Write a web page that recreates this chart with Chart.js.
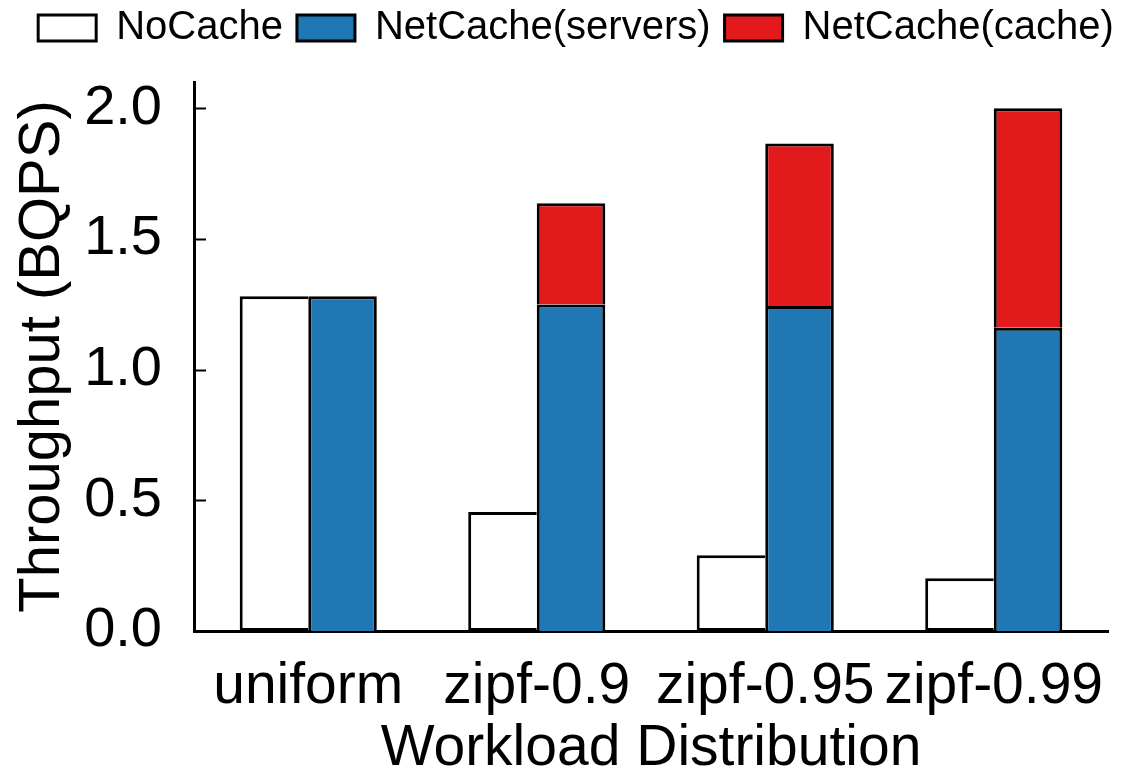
<!DOCTYPE html>
<html>
<head>
<meta charset="utf-8">
<script src="https://cdn.jsdelivr.net/npm/chart.js@4/dist/chart.umd.min.js"></script>
<style>
  html, body { margin: 0; padding: 0; background: #ffffff; }
  #wrap { width: 1122px; height: 775px; }
</style>
</head>
<body>
<div id="wrap"><canvas id="c" width="1122" height="775"></canvas></div>
<script>
// Throughput per workload distribution (billion queries per second)
const categories = ['uniform', 'zipf-0.9', 'zipf-0.95', 'zipf-0.99'];
const noCache = [1.28, 0.455, 0.29, 0.202];
const netCacheServers = [1.28, 1.249, 1.243, 1.16];
const netCacheCache = [0, 0.387, 0.622, 0.84];
const yTicks = [0, 0.5, 1.0, 1.5, 2.0];
const yMax = 2.1;

const FONT = "'Liberation Sans', Arial, Helvetica, sans-serif";
const LEGEND_SHIFT = { dx: 22, dy: -6 };

// Short tick marks drawn on the inside of the value axis
const inwardTicks = {
  id: 'inwardTicks',
  afterDatasetsDraw(chart) {
    const y = chart.scales.y;
    const ctx = chart.ctx;
    ctx.save();
    ctx.strokeStyle = '#000';
    ctx.lineWidth = 2;
    y.ticks.forEach(t => {
      const py = Math.round(y.getPixelForValue(t.value)) + 0.5;
      ctx.beginPath();
      ctx.moveTo(y.right, py);
      ctx.lineTo(y.right + 12, py);
      ctx.stroke();
    });
    ctx.restore();
  }
};

// Fixed legend band height and a small offset for its drawing
const legendBand = {
  id: 'legendBand',
  beforeInit(chart) {
    const lg = chart.legend;
    if (!lg) return;
    const fit = lg.fit.bind(lg);
    lg.fit = function () { fit(); this.height = 82; };
    const draw = lg.draw.bind(lg);
    lg.draw = function (area) {
      const c = this.ctx;
      c.save();
      c.translate(LEGEND_SHIFT.dx, LEGEND_SHIFT.dy);
      draw(area);
      c.restore();
    };
  }
};

new Chart(document.getElementById('c'), {
  type: 'bar',
  data: {
    labels: categories,
    datasets: [
      {
        label: 'NoCache',
        data: noCache,
        backgroundColor: '#ffffff',
        borderColor: '#000000',
        borderWidth: 3,
        borderSkipped: 'right',
        stack: 'base'
      },
      {
        label: 'NetCache(servers)',
        data: netCacheServers,
        backgroundColor: '#1f77b4',
        borderColor: '#000000',
        borderWidth: 3,
        borderSkipped: 'bottom',
        stack: 'netcache'
      },
      {
        label: 'NetCache(cache)',
        data: netCacheCache,
        backgroundColor: '#e31a1c',
        borderColor: '#000000',
        borderWidth: 3,
        borderSkipped: 'bottom',
        stack: 'netcache'
      }
    ]
  },
  options: {
    responsive: false,
    animation: false,
    devicePixelRatio: 1,
    categoryPercentage: 0.6,
    barPercentage: 1.0,
    layout: { padding: { left: 0, right: 14, top: 0, bottom: 0 } },
    plugins: {
      tooltip: { enabled: false },
      legend: {
        position: 'top',
        align: 'center',
        labels: {
          color: '#000',
          font: { family: FONT, size: 40 },
          boxWidth: 58,
          boxHeight: 26,
          padding: 14
        }
      }
    },
    scales: {
      x: {
        stacked: true,
        grid: { display: false, drawTicks: false },
        border: { display: true, color: '#000', width: 3 },
        ticks: {
          color: '#000',
          font: { family: FONT, size: 57 },
          padding: 22,
          maxRotation: 0,
          autoSkip: false
        },
        title: {
          display: true,
          text: 'Workload Distribution',
          color: '#000',
          font: { family: FONT, size: 57, lineHeight: 0.9 },
          padding: { top: 0, bottom: 0 }
        },
        afterFit(s) {
          s.height = 144;
          s.paddingLeft = 0;
          s.paddingRight = 0;
        }
      },
      y: {
        stacked: true,
        min: 0,
        max: yMax,
        afterBuildTicks(s) { s.ticks = yTicks.map(v => ({ value: v })); },
        grid: { display: false, drawTicks: false },
        border: { display: true, color: '#000', width: 3 },
        ticks: {
          color: '#000',
          font: { family: FONT, size: 56 },
          padding: 32,
          callback: v => Number(v).toFixed(1)
        },
        title: {
          display: true,
          text: 'Throughput (BQPS)',
          color: '#000',
          font: { family: FONT, size: 58 },
          padding: { top: 8, bottom: 0 }
        },
        afterFit(s) {
          s.width = 194;
          s.paddingTop = 0;
          s.paddingBottom = 0;
        }
      }
    }
  },
  plugins: [inwardTicks, legendBand]
});
</script>
</body>
</html>
